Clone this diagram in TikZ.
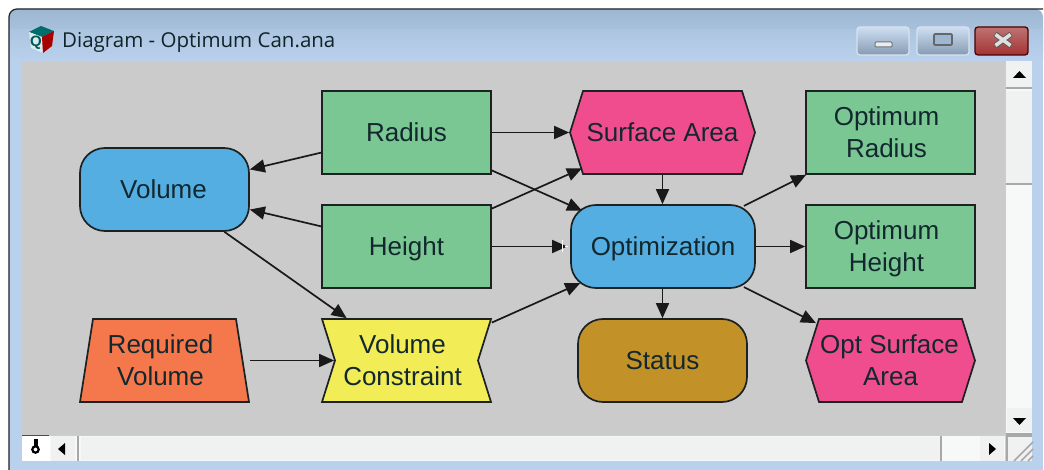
\documentclass[tikz,border=0pt]{standalone}
\usepackage{fontspec}
\setmainfont{Liberation Sans}
\newfontfamily\titlefont{Open Sans}
\usetikzlibrary{arrows.meta}
\definecolor{frameA}{HTML}{9DB6D2}
\definecolor{frameB}{HTML}{B9D1EC}
\definecolor{client}{HTML}{CBCBCB}
\definecolor{boxgreen}{HTML}{7AC793}
\definecolor{boxblue}{HTML}{55AEE2}
\definecolor{boxpink}{HTML}{F04D8F}
\definecolor{boxyellow}{HTML}{F2EC57}
\definecolor{boxorange}{HTML}{F5784C}
\definecolor{boxbrown}{HTML}{C29229}
\definecolor{inkline}{HTML}{1C2222}
\definecolor{inktext}{HTML}{12282E}
\definecolor{barface}{HTML}{F0F1F1}
\definecolor{bartrack}{HTML}{F7F8F8}
\definecolor{bargrey}{HTML}{A8A8A8}
\newcommand{\nodepth}[1]{\raisebox{0pt}[\height][0pt]{#1}}
\tikzset{
  x=1pt,y=-1pt,
  base/.style={minimum width=169pt,minimum height=83pt,inner sep=0pt,align=center,text=inktext,
     font=\fontsize{26}{32}\selectfont,line width=1.7pt,draw=inkline},
  greenbox/.style={base,fill=boxgreen},
  bluebox/.style={base,fill=boxblue,rounded corners=25pt},
  brownbox/.style={base,fill=boxbrown,rounded corners=25pt},
  ghost/.style={base,draw=none,fill=none},
  shapeline/.style={line width=1.7pt,draw=inkline,line join=miter},
  link/.style={line width=1.7pt,draw=black!90,-{Triangle[length=15pt,width=13pt]}},
  barbtn/.style={fill=barface,draw=none},
  barshadow/.style={draw=bargrey,line width=2pt},
  glyph/.style={fill=black,draw=none},
  winbtn/.style={draw=white!60!frameA,line width=1.3pt,rounded corners=3pt,top color=frameB!70!white,bottom color=frameA!85!black},
}
\begin{document}
\begin{tikzpicture}
\useasboundingbox (0,0) rectangle (1044,470);
\fill[white] (0,0) rectangle (1044,470);
% window frame
\fill[frameB] (9,61) rectangle (1043,470);
\path[rounded corners=8pt,top color=frameA,bottom color=frameB] (9,61) -- (9,9) -- (1043,9) -- (1043,61) -- cycle;
\fill[frameB] (9,50) rectangle (1043,61);
\path[top color=frameA!45!frameB,bottom color=frameB] (9,30) rectangle (1043,61);
\draw[inkline,line width=1.2pt,rounded corners=8pt] (9,470) -- (9,9) -- (1043,9);
% client
\fill[client] (22,61) rectangle (1005,435);
% icon
\fill[teal!85!black] (29,32) -- (41,26) -- (54,31) -- (42,37) -- cycle;
\fill[white!85!teal] (29,32) -- (42,37) -- (43,53) -- (31,48) -- cycle;
\fill[red!65!black] (42,37) -- (54,31) -- (52,46) -- (43,53) -- cycle;
\node[font=\fontsize{15}{15}\bfseries\selectfont,text=teal!70!black,inner sep=0pt] (iconq) at (36,43) {Q};
% title
\node[anchor=west,inner sep=0pt,font=\titlefont\fontsize{20.5}{24}\selectfont,text=inktext!90!black] (title) at (62,42) {Diagram - Optimum Can.ana};
% window buttons
\draw[winbtn] (857,27) rectangle (909,55);
\draw[winbtn] (917,27) rectangle (969,55);
\draw[draw=red!30!black,line width=1.3pt,rounded corners=3pt,top color=red!40!white!75!black,middle color=red!60!black!85!white,bottom color=red!55!black!80!white] (975,27) rectangle (1028,55);
\draw[fill=white!75!frameA,draw=black!55,line width=1pt,rounded corners=1pt] (875,42) rectangle (892,47);
\draw[fill=frameA,draw=black!60,line width=1.6pt,rounded corners=1pt] (934,34) rectangle (952,45);
\draw[black!65,line width=5.4pt] (995,34) -- (1011,46) (1011,34) -- (995,46);
\draw[white!88!black,line width=3.6pt] (995.5,34.5) -- (1010.5,45.5) (1010.5,34.5) -- (995.5,45.5);
% vertical scrollbar
\fill[bartrack] (1006,61) rectangle (1032,435);
\fill[barbtn] (1006,61) rectangle (1032,87);
\draw[barshadow] (1006,88) -- (1032,88);
\fill[barbtn] (1006,91) rectangle (1032,183);
\draw[barshadow] (1006,184) -- (1032,184);
\fill[barbtn] (1007,408) rectangle (1032,432);
\draw[barshadow] (1006,434) -- (1032,434);
\fill[glyph] (1013,78) -- (1026,78) -- (1019.5,71) -- cycle;
\fill[glyph] (1013,418) -- (1026,418) -- (1019.5,425) -- cycle;
% horizontal scrollbar
\fill[bartrack] (22,436) rectangle (1005,461);
\fill[white] (22,436) rectangle (50,461);
\draw[black!70,line width=1.2pt] (22,435.5) -- (49,435.5);
\fill[glyph] (34,439) rectangle (37.5,446);
\draw[black,line width=2.2pt] (35.5,449.5) circle[radius=3.2];
\fill[barbtn] (51,436) rectangle (75,461);
\draw[barshadow] (77.5,436) -- (77.5,461);
\fill[glyph] (58,449) -- (65,443) -- (65,455) -- cycle;
\fill[barbtn] (81,437) rectangle (940,460);
\draw[barshadow] (941,436) -- (941,461);
\fill[barbtn] (980,436) rectangle (1004,461);
\fill[glyph] (996,449) -- (989,443) -- (989,455) -- cycle;
\fill[barface] (1008,437) rectangle (1032,461);
\draw[barshadow] (1006,436) -- (1032,436);
\draw[barshadow] (1006.5,436) -- (1006.5,461);
\draw[bargrey,line width=1.5pt] (1014,461) -- (1033,442) (1021,461) -- (1033,449) (1028,461) -- (1033,456);
% special shapes
\path[shapeline,fill=boxpink] (570,132.5) -- (583,91) -- (742,91) -- (755,132.5) -- (742,174) -- (583,174) -- cycle;
\path[shapeline,fill=boxpink] (806,360.5) -- (819,319) -- (962,319) -- (975,360.5) -- (962,402) -- (819,402) -- cycle;
\path[shapeline,fill=boxorange] (93,319) -- (236,319) -- (249,402) -- (80,402) -- cycle;
\path[shapeline,fill=boxyellow] (322,319) -- (491,319) -- (478,360.5) -- (491,402) -- (322,402) -- (335,360.5) -- cycle;
% nodes
\node[greenbox] (radius) at (406.5,132.5) {Radius};
\node[greenbox] (height) at (406.5,246.5) {\nodepth{Height}};
\node[bluebox] (volume) at (164.5,189.5) {Volume\kern2pt};
\node[ghost,minimum width=185pt] (surface) at (662.5,132.5) {Surface Area};
\node[bluebox,minimum width=184pt] (optim) at (663,246.5) {\nodepth{Optimization}};
\node[greenbox] (optradius) at (890.5,132.5) {Optimum\kern8pt\\Radius\kern8pt};
\node[greenbox] (optheight) at (890.5,246.5) {Optimum\kern8pt\\\nodepth{Height}\kern8pt};
\node[brownbox] (status) at (662.5,360.5) {Status};
\node[ghost] (optsurface) at (890.5,360.5) {Opt Surface\kern2pt\\Area};
\node[ghost] (required) at (164.5,360.5) {Required\kern8pt\\Volume\kern8pt};
\node[ghost] (constraint) at (406.5,360.5) {Volume\kern8pt\\Constraint\kern8pt};
% connectors
\draw[link] (radius) -- (surface);
\draw[link,shorten >=-13pt] (radius) -- (optim);
\draw[link] (radius) -- (volume);
\draw[link] (height) -- (volume);
\draw[link,shorten >=-14pt] (height) -- (surface);
\draw[link,shorten >=3pt] (height) -- (optim);
\draw[link] (volume) -- (constraint);
\draw[link] (surface) -- (surface|-optim.north);
\draw[link,shorten >=-11pt] (constraint) -- (optim);
\draw[link,shorten >=-13pt] (required) -- (constraint);
\draw[link,shorten <=-4pt] (optim) -- (optradius);
\draw[link] (optim) -- (optheight);
\draw[link,shorten >=-11pt,shorten <=-4pt] (optim) -- (optsurface);
\draw[link] (optim.south-|status) -- (status);
% cursor speck on the Height link
\draw[white,line width=0.9pt] (562,240) -- (562,252) (565,246) -- (568,246);
\end{tikzpicture}
\end{document}
